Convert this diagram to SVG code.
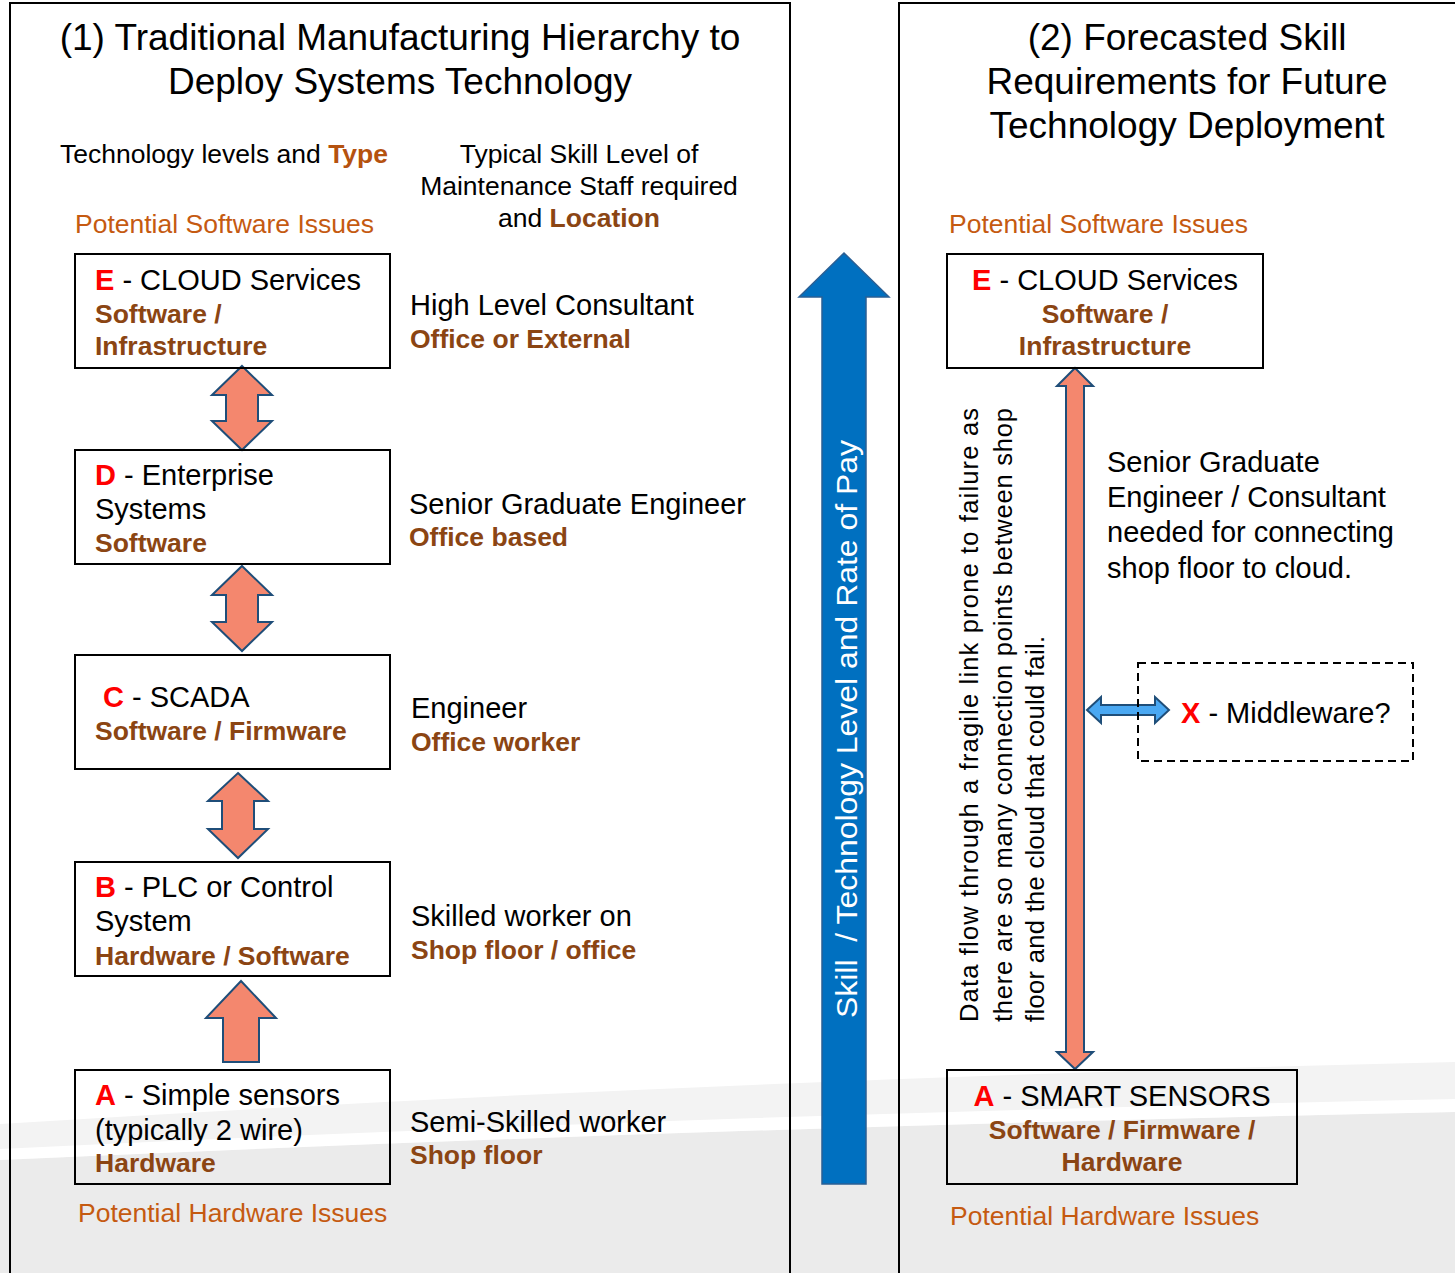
<svg xmlns="http://www.w3.org/2000/svg" width="1455" height="1273" viewBox="0 0 1455 1273">
<style>
text{font-family:"Liberation Sans",Arial,sans-serif;fill:#000}
.t{font-size:37px}
.h{font-size:26.5px}
.n{font-size:29px}
.b{font-size:26.5px;font-weight:bold;fill:#8b4513}
.r{font-weight:bold;fill:#ff0000}
.o{font-size:26.5px;fill:#c55a11}
.m{text-anchor:middle}
.box{fill:none;stroke:#000;stroke-width:2}
.pan{fill:none;stroke:#000;stroke-width:2}
.sal{fill:#f4876e;stroke:#1f4e79;stroke-width:2;stroke-linejoin:miter}
.rot{font-size:25.5px}
</style>
<rect x="0" y="0" width="1455" height="1273" fill="#ffffff"/>
<g id="background">
<path d="M0,1124 Q700,1080 1455,1062 L1455,1273 L0,1273 Z" fill="#f3f3f3"/>
<path d="M0,1160 Q700,1128 1455,1112 L1455,1273 L0,1273 Z" fill="#ebebeb"/>
<path d="M0,1149 Q700,1115 1455,1099 L1455,1112 Q700,1128 0,1160 Z" fill="#ffffff"/>
</g>
<g id="panels">
<rect class="pan" x="10" y="3" width="780" height="1290"/>
<rect class="pan" x="899" y="3" width="600" height="1290"/>
</g>
<g id="titles">
<text class="t m" x="400" y="50">(1) Traditional Manufacturing Hierarchy to</text>
<text class="t m" x="400" y="94">Deploy Systems Technology</text>
<text class="t m" x="1187" y="50">(2) Forecasted Skill</text>
<text class="t m" x="1187" y="94">Requirements for Future</text>
<text class="t m" x="1187" y="138">Technology Deployment</text>
</g>
<g id="headers">
<text class="h" x="60" y="163">Technology levels and <tspan style="font-weight:bold;fill:#b5520f">Type</tspan></text>
<text class="h m" x="579" y="163">Typical Skill Level of</text>
<text class="h m" x="579" y="195">Maintenance Staff required</text>
<text class="h m" x="579" y="227">and <tspan style="font-weight:bold;fill:#8b4513">Location</tspan></text>
<text class="o" x="75" y="233">Potential Software Issues</text>
<text class="o" x="949" y="233">Potential Software Issues</text>
<text class="o" x="78" y="1222">Potential Hardware Issues</text>
<text class="o" x="950" y="1225">Potential Hardware Issues</text>
</g>
<g id="connectors">
<polygon class="sal" points="242,366 272,395 258,395 258,421 272,421 242,450 212,421 226,421 226,395 212,395"/>
<polygon class="sal" points="242,566 272,595 258,595 258,622 272,622 242,651 212,622 226,622 226,595 212,595"/>
<polygon class="sal" points="238,773 268,801 254,801 254,829 268,829 238,858 208,829 222,829 222,801 208,801"/>
<polygon class="sal" points="241,981 276,1018 259,1018 259,1062 223,1062 223,1018 206,1018"/>
<polygon class="sal" points="1075,368 1093,386 1084,386 1084,1052 1093,1052 1075,1069 1057,1052 1066,1052 1066,386 1057,386"/>
<polygon points="1087,710 1101,697 1101,705 1155,705 1155,697 1169,710 1155,723 1155,715 1101,715 1101,723" fill="#4aa8f2" stroke="#1f4e79" stroke-width="2"/>
<polygon points="844,253 889,297 866,297 866,1184 822,1184 822,297 799,297" fill="#0070c0" stroke="#2a5f94" stroke-width="1.5"/>
<text transform="rotate(-90 857 1018)" x="857" y="1018" font-size="30" style="fill:#ffffff;white-space:pre" xml:space="preserve" textLength="578" lengthAdjust="spacingAndGlyphs">Skill  / Technology Level and Rate of Pay</text>
</g>
<g id="node-E">
<rect class="box" x="75" y="254" width="315" height="114"/>
<text class="n" x="95" y="290"><tspan class="r">E</tspan> - CLOUD Services</text>
<text class="b" x="95" y="323">Software /</text>
<text class="b" x="95" y="355">Infrastructure</text>
</g>
<g id="node-D">
<rect class="box" x="75" y="450" width="315" height="114"/>
<text class="n" x="95" y="485"><tspan class="r">D</tspan> - Enterprise</text>
<text class="n" x="95" y="519">Systems</text>
<text class="b" x="95" y="552">Software</text>
</g>
<g id="node-C">
<rect class="box" x="75" y="655" width="315" height="114"/>
<text class="n" x="103" y="707"><tspan class="r">C</tspan> - SCADA</text>
<text class="b" x="95" y="740">Software / Firmware</text>
</g>
<g id="node-B">
<rect class="box" x="75" y="862" width="315" height="114"/>
<text class="n" x="95" y="897"><tspan class="r">B</tspan> - PLC or Control</text>
<text class="n" x="95" y="931">System</text>
<text class="b" x="95" y="965">Hardware / Software</text>
</g>
<g id="node-A">
<rect class="box" x="75" y="1070" width="315" height="114"/>
<text class="n" x="95" y="1105"><tspan class="r">A</tspan> - Simple sensors</text>
<text class="n" x="95" y="1140">(typically 2 wire)</text>
<text class="b" x="95" y="1172">Hardware</text>
</g>
<g id="skill-labels">
<text class="n" x="410" y="315">High Level Consultant</text>
<text class="b" x="410" y="348">Office or External</text>
<text class="n" x="409" y="514">Senior Graduate Engineer</text>
<text class="b" x="409" y="546">Office based</text>
<text class="n" x="411" y="718">Engineer</text>
<text class="b" x="411" y="751">Office worker</text>
<text class="n" x="411" y="926">Skilled worker on</text>
<text class="b" x="411" y="959">Shop floor / office</text>
<text class="n" x="410" y="1132">Semi-Skilled worker</text>
<text class="b" x="410" y="1164">Shop floor</text>
</g>
<g id="node-E2">
<rect class="box" x="947" y="254" width="316" height="114"/>
<text class="n m" x="1105" y="290"><tspan class="r">E</tspan> - CLOUD Services</text>
<text class="b m" x="1105" y="323">Software /</text>
<text class="b m" x="1105" y="355">Infrastructure</text>
</g>
<g id="node-A2">
<rect class="box" x="947" y="1070" width="350" height="114"/>
<text class="n m" x="1122" y="1106"><tspan class="r">A</tspan> - SMART SENSORS</text>
<text class="b m" x="1122" y="1139">Software / Firmware /</text>
<text class="b m" x="1122" y="1171">Hardware</text>
</g>
<g id="node-X">
<rect x="1138" y="663" width="275" height="98" fill="none" stroke="#000" stroke-width="2" stroke-dasharray="8 5"/>
<text class="n" x="1181" y="723"><tspan class="r">X</tspan> - Middleware?</text>
</g>
<g id="right-notes">
<text class="n" x="1107" y="472">Senior Graduate</text>
<text class="n" x="1107" y="507">Engineer / Consultant</text>
<text class="n" x="1107" y="542">needed for connecting</text>
<text class="n" x="1107" y="578">shop floor to cloud.</text>
<text class="rot" transform="rotate(-90 978 1022)" x="978" y="1022" textLength="614" lengthAdjust="spacing">Data flow through a fragile link prone to failure as</text>
<text class="rot" transform="rotate(-90 1012 1022)" x="1012" y="1022" textLength="614" lengthAdjust="spacing">there are so many connection points between shop</text>
<text class="rot" transform="rotate(-90 1044 1022)" x="1044" y="1022" textLength="386" lengthAdjust="spacing">floor and the cloud that could fail.</text>
</g>
</svg>
